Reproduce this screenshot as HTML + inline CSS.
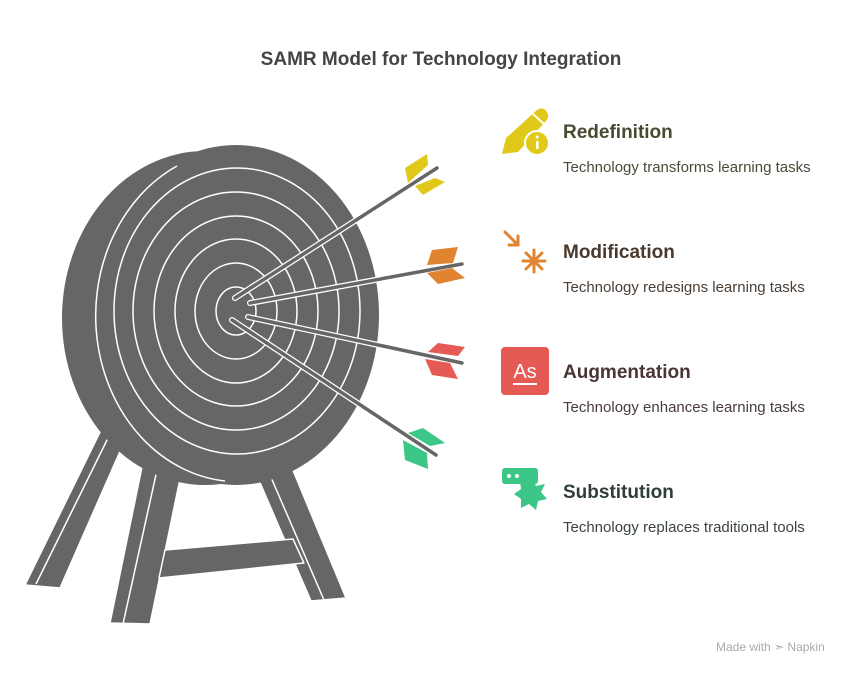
<!DOCTYPE html>
<html><head><meta charset="utf-8"><style>
body{margin:0;background:#fff;font-family:"Liberation Sans",sans-serif}
.t{position:absolute;white-space:nowrap}
</style></head><body>
<div style="position:relative;width:850px;height:676px;overflow:hidden">
<svg width="850" height="676" style="position:absolute;left:0;top:0">
<g fill="#666" stroke="#fff" stroke-width="1.5" stroke-linejoin="round">
<polygon points="102,428 125,440 60,588 25,585"/>
<polygon points="143,462 181,474 150,624 110,623"/>
<polygon points="258,478 292,468 346,598 311,601"/>
<polygon points="165,550 293,539 304,563 159,578"/>
</g>
<line x1="36" y1="584" x2="109" y2="436" stroke="#fff" stroke-width="1.5"/>
<line x1="123" y1="624" x2="157" y2="470" stroke="#fff" stroke-width="1.5"/>
<line x1="270" y1="475" x2="324" y2="600" stroke="#fff" stroke-width="1.5"/>
<ellipse cx="205" cy="318" rx="143" ry="167" fill="#666"/>
<ellipse cx="236" cy="315" rx="143" ry="170" fill="#666"/>
<path d="M177,166 A143,166 0 0 0 225,481" fill="none" stroke="#fff" stroke-width="1.5"/>
<g fill="none" stroke="#fff" stroke-width="1.5">
<ellipse cx="237" cy="311" rx="123" ry="143"/>
<ellipse cx="236" cy="311" rx="103" ry="119"/>
<ellipse cx="236" cy="311" rx="82" ry="95"/>
<ellipse cx="236" cy="311" rx="61" ry="72"/>
<ellipse cx="236" cy="311" rx="41" ry="48"/>
<ellipse cx="236" cy="311" rx="20" ry="24"/>
</g>
<g stroke="#fff" stroke-width="6" stroke-linecap="round">
<line x1="235" y1="298" x2="437" y2="168"/>
<line x1="250" y1="303" x2="462" y2="264"/>
<line x1="248" y1="317" x2="462" y2="363"/>
<line x1="232" y1="320" x2="436" y2="455"/>
</g>
<g fill="#e0c919"><polygon points="405,168 427,154 428,165 408,183"/><polygon points="415,186 435,178 445,182 423,195"/></g>
<g fill="#e08430"><polygon points="427,265 432,250 458,247 453,263"/><polygon points="427,273 452,268 465,278 438,284"/></g>
<g fill="#e55a55"><polygon points="428,352 438,343 465,347 458,356"/><polygon points="425,359 450,363 458,379 432,375"/></g>
<g fill="#3cc687"><polygon points="408,433 423,428 445,443 430,446"/><polygon points="403,440 427,453 428,469 405,460"/></g>
<g stroke="#666" stroke-width="3.5" stroke-linecap="round">
<line x1="235" y1="298" x2="437" y2="168"/>
<line x1="250" y1="303" x2="462" y2="264"/>
<line x1="248" y1="317" x2="462" y2="363"/>
<line x1="232" y1="320" x2="436" y2="455"/>
</g>
<path d="M502,154 L506,138 L537,110 Q543,106 547,112 Q550,117 545,122 L518,152 Z" fill="#e0c919"/>
<line x1="533" y1="114" x2="544" y2="124" stroke="#fff" stroke-width="2"/>
<circle cx="537" cy="143" r="12" fill="#e0c919" stroke="#fff" stroke-width="2"/>
<rect x="536" y="141" width="2.5" height="8" fill="#fff"/><circle cx="537.2" cy="137" r="1.5" fill="#fff"/>
<g stroke="#e08430" stroke-width="3" stroke-linecap="round" fill="none">
<path d="M505,232 L518,245 M518,236 L518,245 L509,245"/>
<path d="M534,250 L534,272 M523,261 L545,261 M526,253 L542,269 M542,253 L526,269"/>
</g>
<rect x="501" y="347" width="48" height="48" rx="4" fill="#e55a55"/>
<text x="525" y="378" font-size="20" fill="#fff" text-anchor="middle" font-family="Liberation Sans">As</text>
<rect x="513" y="383" width="24" height="2" fill="#fff"/>
<rect x="502" y="468" width="36" height="16" rx="3" fill="#3cc687"/>
<circle cx="509" cy="476" r="2" fill="#fff"/><circle cx="517" cy="476" r="2" fill="#fff"/>
<polygon points="532,478 536,486 545,484 541,492 547,499 538,501 536,510 529,504 521,508 521,499 514,494 521,489 520,480 528,484" fill="#3cc687"/>
</svg>
<div class="t" style="left:0;width:882px;text-align:center;top:49px;font-size:19px;font-weight:bold;color:#444">SAMR Model for Technology Integration</div>
<div class="t" style="left:563px;top:122px;font-size:19px;font-weight:bold;color:#4a4a30">Redefinition</div>
<div class="t" style="left:563px;top:159px;font-size:15px;color:#4a4a3a">Technology transforms learning tasks</div>
<div class="t" style="left:563px;top:242px;font-size:19px;font-weight:bold;color:#4a3a2e">Modification</div>
<div class="t" style="left:563px;top:279px;font-size:15px;color:#4a3f36">Technology redesigns learning tasks</div>
<div class="t" style="left:563px;top:362px;font-size:19px;font-weight:bold;color:#4a3535">Augmentation</div>
<div class="t" style="left:563px;top:399px;font-size:15px;color:#4a3c3c">Technology enhances learning tasks</div>
<div class="t" style="left:563px;top:482px;font-size:19px;font-weight:bold;color:#2f3f37">Substitution</div>
<div class="t" style="left:563px;top:519px;font-size:15px;color:#3a443f">Technology replaces traditional tools</div>
<div class="t" style="left:716px;top:640px;font-size:12px;color:#aaa">Made with ➣ Napkin</div>
</div>
</body></html>
